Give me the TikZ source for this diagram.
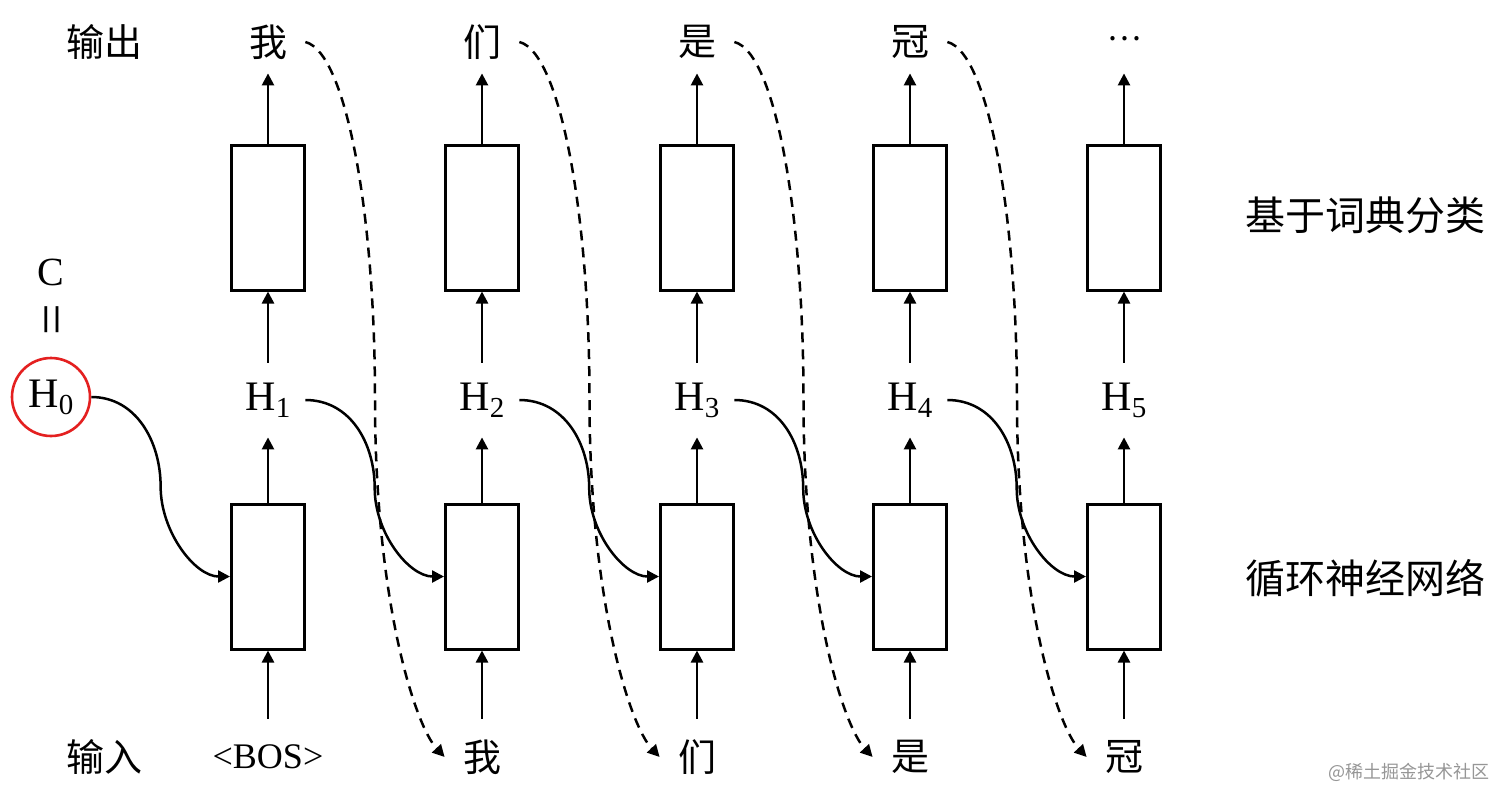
\documentclass[tikz,border=0pt]{standalone}
\usepackage{fontspec}
\setmainfont{Liberation Serif}
\newfontfamily\cjk{Noto Sans CJK SC}
\usetikzlibrary{arrows.meta,calc}
\definecolor{hred}{RGB}{228,32,32}
\definecolor{wmgray}{RGB}{150,150,150}
\newcommand\Hs[1]{H\raisebox{-3.5pt}{\fontsize{14.5}{15}\selectfont #1}}
\begin{document}
\begin{tikzpicture}[x=0.5pt,y=-0.5pt,
  cell/.style={draw, line width=1.5pt, minimum width=36.5pt, minimum height=72.5pt, inner sep=0},
  outword/.style={font=\cjk\fontsize{19}{22}\selectfont, inner sep=0, minimum width=37pt, minimum height=31pt},
  inword/.style={font=\cjk\fontsize{19}{22}\selectfont, inner sep=0, minimum width=37pt, minimum height=38pt},
  hlab/.style={font=\fontsize{21}{24}\selectfont, inner sep=0, minimum width=37pt, minimum height=37pt},
  sidelab/.style={font=\cjk\fontsize{20}{24}\selectfont, inner sep=0},
  leftlab/.style={font=\cjk\fontsize{19}{22}\selectfont, inner sep=0},
  arr/.style={line width=1.25pt, -{Triangle[length=6pt,width=6pt]}},
  dashcurve/.style={line width=1.25pt, dash pattern=on 5pt off 3.5pt, -{Triangle[length=6pt,width=6pt]}}]
\fill[white] (0,0) rectangle (1512,805);
\useasboundingbox (0,0) rectangle (1512,805);

% boxes
\foreach \i/\x in {1/268,2/482,3/697,4/910,5/1124}{
  \node[cell] (up\i) at (\x,217.5) {};
  \node[cell] (lo\i) at (\x,576.5) {};
  \node[hlab] (h\i) at (\x,400) {\Hs{\i}};
}
% output words
\node[outword] (out1) at (268,42) {我};
\node[outword] (out2) at (482,42) {们};
\node[outword] (out3) at (697,42) {是};
\node[outword] (out4) at (910,42) {冠};
\node[outword] (out5) at (1124,42) {\raisebox{4pt}{\fontsize{16}{18}\selectfont …}};
% input words
\node[inword, font=\fontsize{18}{22}\selectfont] (in1) at (268,757) {<BOS>};
\node[inword] (in2) at (482,757) {我};
\node[inword] (in3) at (697,757) {们};
\node[inword] (in4) at (910,757) {是};
\node[inword] (in5) at (1124,757) {冠};

% side labels
\node[leftlab] (lout) at (105,42) {输出};
\node[leftlab] (lin) at (105,757) {输入};
\node[sidelab] (lcls) at (1365,215) {基于词典分类};
\node[sidelab] (lrnn) at (1365,578) {循环神经网络};

% H0 and C
\node[draw=hred, line width=1.3pt, circle, minimum size=39pt, inner sep=0, font=\fontsize{21}{24}\selectfont] (h0) at (51,397) {\Hs{0}};
\node[font=\fontsize{20}{22}\selectfont, inner sep=0] (c) at (51,272) {C};
\node[font=\fontsize{28}{30}\selectfont, inner sep=0, rotate=90] (eq) at (58,320) {=};

% vertical arrows
\foreach \i in {1,...,5}{
  \draw[arr] (in\i.north) -- (lo\i.south);
  \draw[arr] (lo\i.north) -- (h\i.south);
  \draw[arr] (h\i.north) -- (up\i.south);
  \draw[arr] (up\i.north) -- (out\i.south);
}

% recurrent solid curves
\foreach \i/\j in {0/1,1/2,2/3,3/4,4/5}{
  \draw[arr] (h\i.east) .. controls +(45,0) and +(0,-45) .. ($(h\i.east)!0.5!(lo\j.west)$) .. controls +(0,45) and +(-35,0) .. (lo\j.west);
}

% dashed feedback curves
\foreach \i/\j in {1/2,2/3,3/4,4/5}{
  \draw[dashcurve] (out\i.east) .. controls +(40,10) and +(0,-190) .. ($(out\i.east)!0.5!(in\j.west)$) .. controls +(0,200) and +(-30,-32) .. (in\j.west);
}

% watermark
\node[font=\cjk\fontsize{9}{11}\selectfont, text=wmgray, anchor=east, inner sep=0] (wm) at (1490,772) {@稀土掘金技术社区};
\end{tikzpicture}
\end{document}
